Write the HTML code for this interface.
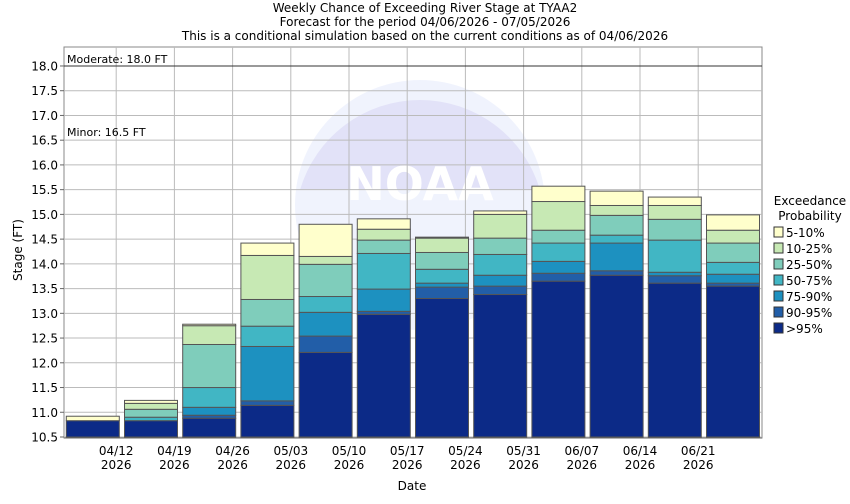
<!DOCTYPE html>
<html><head><meta charset="utf-8"><style>
body{margin:0;background:#fff;font-family:"DejaVu Sans","Liberation Sans",sans-serif;}
svg text{font-family:"DejaVu Sans","Liberation Sans",sans-serif;}
</style></head><body>
<svg id="chart" width="850" height="500" xmlns="http://www.w3.org/2000/svg"></svg>
<script>
const categories=["04/05","04/12","04/19","04/26","05/03","05/10","05/17","05/24","05/31","06/07","06/14","06/21"];
const tickLabels=["04/12","04/19","04/26","05/03","05/10","05/17","05/24","05/31","06/07","06/14","06/21"];
const seriesNames=[">95%","90-95%","75-90%","50-75%","25-50%","10-25%","5-10%"];
const p95=[10.83,10.83,10.88,11.14,12.21,12.98,13.30,13.38,13.65,13.77,13.61,13.55];
const p90=[10.83,10.83,10.94,11.23,12.54,13.04,13.53,13.55,13.81,13.86,13.76,13.61];
const p75=[10.83,10.83,11.10,12.33,13.02,13.49,13.61,13.77,14.05,14.42,13.83,13.79];
const p50=[10.83,10.90,11.50,12.74,13.34,14.21,13.89,14.19,14.42,14.58,14.48,14.03];
const p25=[10.83,11.06,12.37,13.28,13.99,14.48,14.23,14.52,14.68,14.98,14.90,14.42];
const p10=[10.83,11.18,12.75,14.17,14.15,14.70,14.52,15.00,15.26,15.18,15.18,14.68];
const p5=[10.92,11.24,12.78,14.42,14.80,14.91,14.54,15.07,15.57,15.47,15.35,14.99];
const colors=["#0c2a87","#225ea8","#1d91c0","#41b6c4","#7fcdbb","#c7e9b4","#ffffcc"];
const yTicks=[10.5,11,11.5,12,12.5,13,13.5,14,14.5,15,15.5,16,16.5,17,17.5,18];

const svg=document.getElementById('chart');
const NS="http://www.w3.org/2000/svg";
const L=64,R=762,T=47,B=438;
function y(v){return 437-(v-10.5)*49.47;}
function xb(i){return 66.3+58.2*i;}
const BW=53;
function mk(tag,attrs,parent){const e=document.createElementNS(NS,tag);for(const k in attrs)e.setAttribute(k,attrs[k]);(parent||svg).appendChild(e);return e;}
function txt(s,attrs,parent){const e=mk('text',attrs,parent);e.textContent=s;return e;}

// watermark
const wm=mk('g',{opacity:0.45});


mk('circle',{cx:420,cy:205,r:125,fill:'#dfe6fb'},wm);
mk('path',{d:'M300 190 A125 125 0 0 1 540 190 Z',fill:'#c0c0f0'},wm);
txt('NOAA',{x:420,y:200,'text-anchor':'middle','font-size':46,'font-weight':'bold',fill:'#fff'},wm);

// plot frame
const frame=mk('rect',{x:L,y:T,width:R-L,height:B-T,fill:'none',stroke:'#888'});


// grid
yTicks.forEach(v=>{
 const g=mk('line',{x1:L,x2:R,y1:y(v),y2:y(v),stroke:'#bbb'});
 
 
 mk('line',{x1:L-4,x2:L,y1:y(v),y2:y(v),stroke:'#666'});
 const t=txt(v.toFixed(1),{x:58,y:y(v)+4.5,'text-anchor':'end','font-size':12,fill:'#000'});
 
 
});
tickLabels.forEach((s,i)=>{
 const gx=xb(i+1)-8.3;
 const g=mk('line',{x1:gx,x2:gx,y1:T,y2:B,stroke:'#bbb'});
 
 
 const t=txt(s,{x:gx,y:455,'text-anchor':'middle','font-size':12});
 
 
 const t2=txt('2026',{x:gx,y:469,'text-anchor':'middle','font-size':12});
 
 
});
// flood lines
const ml=mk('line',{x1:L,x2:R,y1:y(18),y2:y(18),stroke:'#333','stroke-width':1});


const mt=txt('Moderate: 18.0 FT',{x:67,y:y(18)-3,'font-size':11});


const nt=txt('Minor: 16.5 FT',{x:67,y:y(16.5)-4,'font-size':11});



// bars
const series=[p95,p90,p75,p50,p25,p10,p5];
categories.forEach((c,i)=>{
 let base=10.5;
 series.forEach((s,k)=>{
  const top=s[i];
  const r=mk('rect',{x:xb(i),y:y(top),width:BW,height:Math.max(0,y(base)-y(top)),fill:colors[k],stroke:'#555','stroke-width':1});
  
  
  base=top;
 });
});
mk('line',{x1:L,x2:R,y1:B,y2:B,stroke:'#666'});

// titles
["Weekly Chance of Exceeding River Stage at TYAA2","Forecast for the period 04/06/2026 - 07/05/2026","This is a conditional simulation based on the current conditions as of 04/06/2026"].forEach((s,i)=>{
 const t=txt(s,{x:425,y:12+i*14,'text-anchor':'middle','font-size':12});
 
 
});
const yl=txt('Stage (FT)',{x:0,y:0,'text-anchor':'middle','font-size':12,transform:'translate(22,250) rotate(-90)'});


const xl=txt('Date',{x:412,y:490,'text-anchor':'middle','font-size':12});



// legend
const lg=mk('g',{});


txt('Exceedance',{x:810,y:205,'text-anchor':'middle','font-size':12},lg);
txt('Probability',{x:810,y:220,'text-anchor':'middle','font-size':12},lg);
for(let k=6;k>=0;k--){
 const row=6-k;
 const e=mk('g',{},lg);
 
 
 mk('rect',{x:774,y:227+row*16,width:9,height:10,fill:colors[k],stroke:'#333'},e);
 txt(seriesNames[k],{x:786,y:237+row*16,'font-size':12},e);
}
</script>
</body></html>
